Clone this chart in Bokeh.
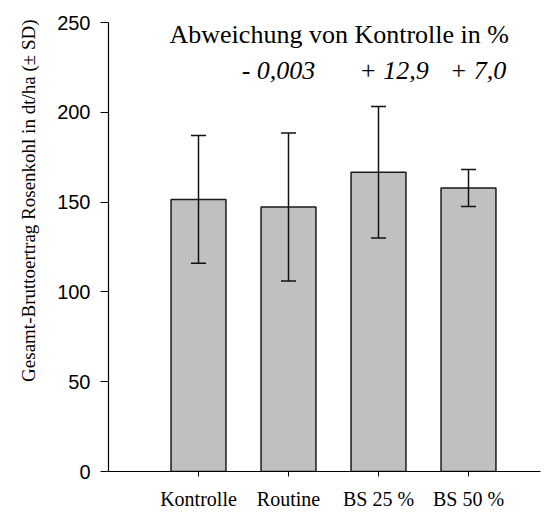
import math
from bokeh.plotting import figure
from bokeh.models import ColumnDataSource, Range1d, FixedTicker, Label, Title
from bokeh.embed import file_html
from bokeh.resources import INLINE

# ---- data ----
categories = ["Kontrolle", "Routine", "BS 25 %", "BS 50 %"]
means = [151.5, 147.3, 166.6, 157.8]
sds = [35.6, 41.2, 36.6, 10.3]
deviation_labels = ["- 0,003", "+ 12,9", "+ 7,0"]   # for Routine, BS 25 %, BS 50 %
y_ticks = [0, 50, 100, 150, 200, 250]
title_text = "Abweichung von Kontrolle in %"
y_label = "Gesamt-Bruttoertrag Rosenkohl in dt/ha (\u00b1 SD)"

xs = list(range(1, len(categories) + 1))
cap = 0.0833  # half width of error bar caps (style)
src = ColumnDataSource(dict(
    x=xs, top=means,
    upper=[m + s for m, s in zip(means, sds)],
    lower=[m - s for m, s in zip(means, sds)],
    cl=[x - cap for x in xs], cr=[x + cap for x in xs],
))

p = figure(width=545, height=512, output_backend="svg", toolbar_location=None,
           x_range=Range1d(0, 4.8), y_range=Range1d(0, 250),
           min_border_left=108, min_border_right=5, min_border_top=22, min_border_bottom=40)
p.outline_line_color = None
p.xgrid.grid_line_color = None
p.ygrid.grid_line_color = None
p.background_fill_color = "white"

p.vbar(x="x", top="top", bottom=0, width=0.61, source=src,
       fill_color="#c0c0c0", line_color="#1a1a1a", line_width=1.5)

# error bars (drawn above the bars)
p.segment(x0="x", y0="lower", x1="x", y1="upper", source=src, line_color="#111111", line_width=1.5)
p.segment(x0="cl", y0="upper", x1="cr", y1="upper", source=src, line_color="#111111", line_width=1.5)
p.segment(x0="cl", y0="lower", x1="cr", y1="lower", source=src, line_color="#111111", line_width=1.5)

# axes
p.xaxis.ticker = FixedTicker(ticks=xs)
p.xaxis.major_label_overrides = {x: c for x, c in zip(xs, categories)}
p.xaxis.major_tick_out = 5
p.xaxis.major_tick_in = 0
p.xaxis.minor_tick_line_color = None
p.xaxis.major_label_text_font = "Liberation Serif"
p.xaxis.major_label_text_font_size = "20px"
p.xaxis.major_label_text_color = "black"
p.xaxis.major_label_standoff = 11
p.xaxis.axis_line_color = "black"
p.xaxis.axis_line_width = 1.2

p.yaxis.ticker = FixedTicker(ticks=y_ticks)
p.yaxis.major_tick_out = 8
p.yaxis.major_tick_in = 0
p.yaxis.minor_tick_line_color = None
p.yaxis.major_label_text_font = "Liberation Sans"
p.yaxis.major_label_text_font_size = "20px"
p.yaxis.major_label_text_color = "black"
p.yaxis.major_label_standoff = 10
p.yaxis.axis_line_color = "black"
p.yaxis.axis_line_width = 1.2

# y label as a left-side title, aligned toward the top as in the reference
p.add_layout(Title(text=y_label, align="right", offset=-3, standoff=31,
                   text_font="Liberation Serif", text_font_size="19px",
                   text_font_style="normal", text_color="black"), "left")

# header text
p.add_layout(Label(x=0.678, y=243.5, text=title_text, text_align="left",
                   text_baseline="alphabetic", text_font="Liberation Serif",
                   text_font_size="26px", text_color="black"))
dev_offsets = [-0.111, 0.172, 0.106]
for i, (lab, off) in enumerate(zip(deviation_labels, dev_offsets)):
    p.add_layout(Label(x=xs[i + 1] + off, y=223.3, text=lab, text_align="center",
                       text_baseline="alphabetic", text_font="Liberation Serif",
                       text_font_style="italic", text_font_size="26px", text_color="black"))

open("out.html", "w").write(file_html(p, INLINE))
